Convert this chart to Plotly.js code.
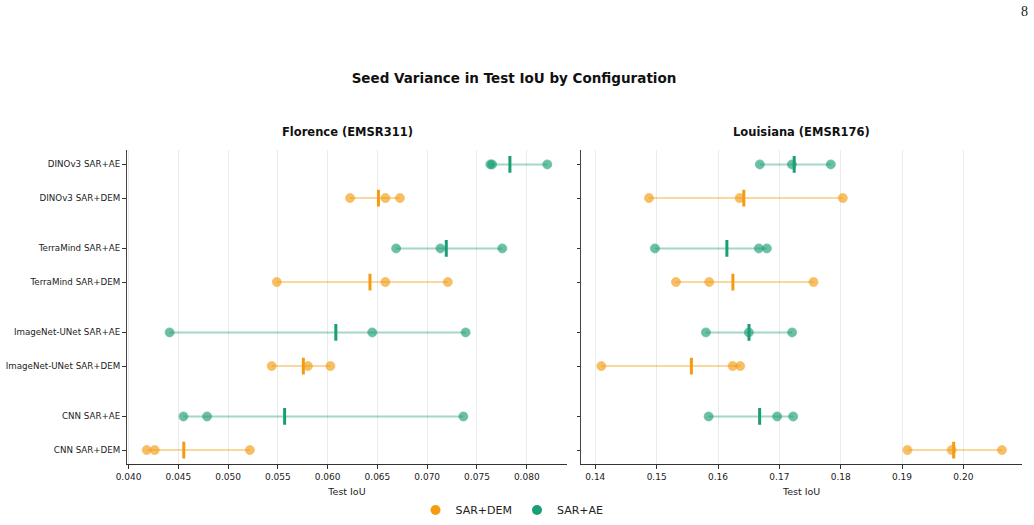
<!DOCTYPE html>
<html>
<head>
<meta charset="utf-8">
<script src="https://cdn.plot.ly/plotly-3.0.1.min.js"></script>
<style>
  html, body { margin: 0; padding: 0; background: #ffffff; }
  #chart { width: 1034px; height: 525px; }
</style>
</head>
<body>
<div id="chart"></div>
<script>
// Configurations, top to bottom
const configs = ['DINOv3', 'TerraMind', 'ImageNet-UNet', 'CNN'];
const modalities = ['SAR+DEM', 'SAR+AE'];
const sites = ['Florence (EMSR311)', 'Louisiana (EMSR176)'];

// Test IoU per seed (three seeds per configuration), ordered as configs
const florenceDemSeeds = [
  [0.06225, 0.06580, 0.06726],
  [0.05489, 0.06580, 0.07207],
  [0.05438, 0.05802, 0.06028],
  [0.04183, 0.04263, 0.05219]
];
const florenceAeSeeds = [
  [0.07634, 0.07652, 0.08206],
  [0.06688, 0.07133, 0.07754],
  [0.04413, 0.06448, 0.07386],
  [0.04552, 0.04789, 0.07363]
];
const louisianaDemSeeds = [
  [0.14875, 0.16352, 0.18034],
  [0.15314, 0.15857, 0.17557],
  [0.14098, 0.16238, 0.16362],
  [0.19088, 0.19809, 0.20629]
];
const louisianaAeSeeds = [
  [0.16682, 0.17204, 0.17839],
  [0.14972, 0.16666, 0.16796],
  [0.15803, 0.16503, 0.17208],
  [0.15847, 0.16964, 0.17225]
];

const florenceTicks = [0.040, 0.045, 0.050, 0.055, 0.060, 0.065, 0.070, 0.075, 0.080];
const louisianaTicks = [0.14, 0.15, 0.16, 0.17, 0.18, 0.19, 0.20];

const colors = { 'SAR+DEM': '#F39C12', 'SAR+AE': '#1B9E77' };
const FONT = 'DejaVu Sans, sans-serif';

// Row position: pairs of rows per configuration, with a wider gap between configurations
function rowPos(ci, mi) { return (configs.length - 1 - ci) * 2.5 + mi; }

const tickPos = [], tickText = [];
configs.forEach((c, ci) => modalities.forEach((m, mi) => {
  tickPos.push(rowPos(ci, mi));
  tickText.push(c + ' ' + m);
}));

const mean = a => a.reduce((s, v) => s + v, 0) / a.length;

const panels = [
  { xa: 'x', ya: 'y', seeds: { 'SAR+DEM': florenceDemSeeds, 'SAR+AE': florenceAeSeeds } },
  { xa: 'x2', ya: 'y2', seeds: { 'SAR+DEM': louisianaDemSeeds, 'SAR+AE': louisianaAeSeeds } }
];

const traces = [];
panels.forEach(p => {
  modalities.forEach((m, mi) => {
    const lx = [], ly = [], px = [], py = [], mx = [], my = [];
    p.seeds[m].forEach((vals, ci) => {
      const y = rowPos(ci, mi);
      const sorted = vals.slice().sort((a, b) => a - b);
      sorted.forEach(v => { lx.push(v); ly.push(y); px.push(v); py.push(y); });
      lx.push(null); ly.push(null);
      mx.push(mean(vals)); my.push(y);
    });
    // range line across seeds
    traces.push({
      type: 'scatter', mode: 'lines', x: lx, y: ly, xaxis: p.xa, yaxis: p.ya,
      line: { color: colors[m], width: 2 }, opacity: 0.4,
      showlegend: false, hoverinfo: 'skip'
    });
    // individual seeds
    traces.push({
      type: 'scatter', mode: 'markers', x: px, y: py, xaxis: p.xa, yaxis: p.ya,
      marker: { color: colors[m], size: 9, opacity: 0.65, line: { width: 0.8, color: colors[m] } },
      showlegend: false, name: m
    });
    // mean across seeds
    traces.push({
      type: 'scatter', mode: 'markers', x: mx, y: my, xaxis: p.xa, yaxis: p.ya,
      marker: { symbol: 'line-ns', size: 12, color: colors[m], line: { width: 3, color: colors[m] } },
      showlegend: false, name: m + ' mean'
    });
  });
});

// legend entries
modalities.forEach(m => {
  traces.push({
    type: 'scatter', mode: 'markers', x: [null], y: [null], name: m,
    marker: { color: colors[m], size: 10 }, showlegend: true
  });
});

function paddedRange(groups) {
  const all = [].concat(...groups.map(g => [].concat(...g)));
  const lo = Math.min(...all), hi = Math.max(...all);
  const pad = (hi - lo) * 0.05;
  return [lo - pad, hi + pad];
}

const W = 1034, H = 525;
const xAxisBase = {
  showgrid: true, gridcolor: '#ebebeb', gridwidth: 1,
  zeroline: false, showline: true, linecolor: '#333333', linewidth: 1,
  ticks: 'outside', ticklen: 3.5, tickwidth: 1, tickcolor: '#333333',
  tickfont: { family: FONT, size: 9, color: '#222222' },
  title: { text: 'Test IoU', font: { family: FONT, size: 9.5, color: '#222222' }, standoff: 7 }
};
const yAxisBase = {
  range: [-0.425, (configs.length - 1) * 2.5 + 1 + 0.425],
  tickvals: tickPos, ticktext: tickText,
  showgrid: false, zeroline: false, showline: true, linecolor: '#444444', linewidth: 1.2,
  ticks: 'outside', ticklen: 3.5, tickwidth: 1, tickcolor: '#333333',
  tickfont: { family: FONT, size: 8.7, color: '#222222' },
  domain: [58 / H, 374 / H]
};

const layout = {
  width: W, height: H,
  margin: { l: 0, r: 0, t: 0, b: 0 },
  paper_bgcolor: '#ffffff', plot_bgcolor: '#ffffff',
  font: { family: FONT, color: '#222222' },
  title: {
    text: '<b>Seed Variance in Test IoU by Configuration</b>',
    font: { family: FONT, size: 13.5, color: '#111111' },
    x: 514 / W, xanchor: 'center', xref: 'paper',
    y: 1 - 78 / H, yanchor: 'middle', yref: 'container'
  },
  xaxis: Object.assign({}, xAxisBase, {
    domain: [126.7 / W, 567.3 / W], anchor: 'y',
    range: paddedRange([florenceDemSeeds, florenceAeSeeds]),
    tickvals: florenceTicks, tickformat: '.3f'
  }),
  yaxis: Object.assign({}, yAxisBase, { anchor: 'x' }),
  xaxis2: Object.assign({}, xAxisBase, {
    domain: [581.3 / W, 1022 / W], anchor: 'y2',
    range: paddedRange([louisianaDemSeeds, louisianaAeSeeds]),
    tickvals: louisianaTicks, tickformat: '.2f'
  }),
  yaxis2: Object.assign({}, yAxisBase, { anchor: 'x2', showticklabels: false }),
  showlegend: true,
  legend: {
    orientation: 'h', x: 512 / W, xanchor: 'center', y: 1 - 513 / H, yanchor: 'middle',
    font: { family: FONT, size: 11, color: '#222222' },
    bgcolor: 'rgba(0,0,0,0)', itemwidth: 30
  },
  annotations: [
    {
      text: '<b>' + sites[0] + '</b>', xref: 'paper', yref: 'paper',
      x: 347 / W, y: 1 - 133 / H, xanchor: 'center', yanchor: 'middle', showarrow: false,
      font: { family: FONT, size: 11.5, color: '#111111' }
    },
    {
      text: '<b>' + sites[1] + '</b>', xref: 'paper', yref: 'paper',
      x: 801.7 / W, y: 1 - 133 / H, xanchor: 'center', yanchor: 'middle', showarrow: false,
      font: { family: FONT, size: 11.5, color: '#111111' }
    },
    {
      text: '8', xref: 'paper', yref: 'paper',
      x: 1024 / W, y: 1 - 12 / H, xanchor: 'center', yanchor: 'middle', showarrow: false,
      font: { family: 'Liberation Serif, DejaVu Serif, serif', size: 14, color: '#222222' }
    }
  ]
};

Plotly.newPlot('chart', traces, layout, { displayModeBar: false, staticPlot: true });
</script>
</body>
</html>
